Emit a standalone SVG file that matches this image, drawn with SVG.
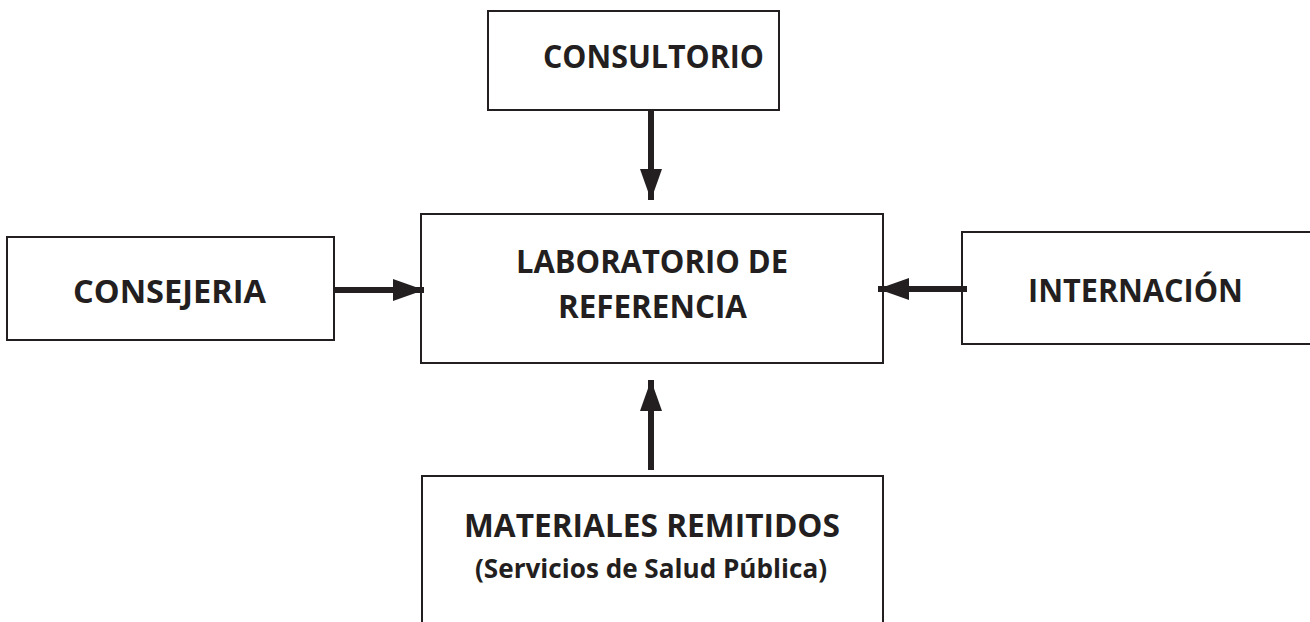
<svg xmlns="http://www.w3.org/2000/svg" width="1310" height="622" viewBox="0 0 1310 622">
  <style>
    .box { fill: #ffffff; stroke: #231f20; stroke-width: 2; }
    .lbl { font-family: "Open Sans", "Liberation Sans", sans-serif; font-weight: 700; font-size: 33px; fill: #231f20; }
    .sub { font-size: 27px; }
    .conn { stroke: #231f20; stroke-width: 6; fill: none; marker-end: url(#arrow); }
  </style>
  <defs>
    <marker id="arrow" viewBox="0 0 31 22" markerWidth="31" markerHeight="22" refX="31" refY="11" orient="auto" markerUnits="userSpaceOnUse">
      <path d="M0,0 L31,11 L0,22 Z" fill="#231f20"/>
    </marker>
  </defs>
  <rect width="1310" height="622" fill="#ffffff"/>

  <g id="consultorio">
    <rect class="box" x="488" y="11" width="291" height="99"/>
    <text class="lbl" x="543" y="68" textLength="221" lengthAdjust="spacingAndGlyphs">CONSULTORIO</text>
  </g>

  <g id="laboratorio">
    <rect class="box" x="421" y="214" width="462" height="149"/>
    <text class="lbl" x="516" y="273" textLength="272" lengthAdjust="spacingAndGlyphs">LABORATORIO DE</text>
    <text class="lbl" x="558" y="318" textLength="189" lengthAdjust="spacingAndGlyphs">REFERENCIA</text>
  </g>

  <g id="consejeria">
    <rect class="box" x="7" y="237" width="327" height="103"/>
    <text class="lbl" x="73" y="303" textLength="193" lengthAdjust="spacingAndGlyphs">CONSEJERIA</text>
  </g>

  <g id="internacion">
    <rect class="box" x="962" y="232" width="360" height="112"/>
    <text class="lbl" x="1028" y="302" textLength="215" lengthAdjust="spacingAndGlyphs">INTERNACIÓN</text>
  </g>

  <g id="materiales">
    <rect class="box" x="422" y="476" width="461" height="160"/>
    <text class="lbl" x="464" y="537" textLength="376" lengthAdjust="spacingAndGlyphs">MATERIALES REMITIDOS</text>
    <text class="lbl sub" x="475" y="578" textLength="352" lengthAdjust="spacingAndGlyphs">(Servicios de Salud Pública)</text>
  </g>

  <g id="connectors">
    <line class="conn" x1="651" y1="110" x2="651" y2="200"/>
    <line class="conn" x1="334" y1="290" x2="424" y2="290"/>
    <line class="conn" x1="967" y1="289" x2="878" y2="289"/>
    <line class="conn" x1="651" y1="470" x2="651" y2="380"/>
  </g>
</svg>
